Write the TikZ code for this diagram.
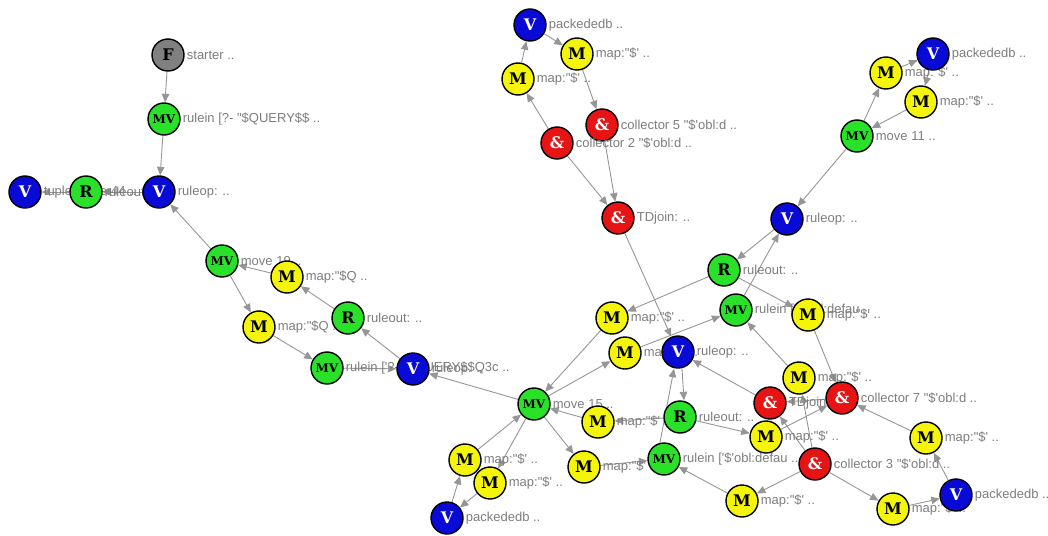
\documentclass[tikz,border=0pt]{standalone}
\usepackage{fontspec}
\newfontfamily\tagfont{Liberation Sans}[Ligatures=TeXOff]
\newfontfamily\opfont{DejaVu Serif}
\usetikzlibrary{arrows.meta}
\pgfdeclarelayer{links}
\pgfsetlayers{links,main}
\definecolor{opblue}{RGB}{10,10,215}
\definecolor{opgreen}{RGB}{40,225,40}
\definecolor{opyellow}{RGB}{245,245,10}
\definecolor{opred}{RGB}{230,20,20}
\definecolor{opgray}{RGB}{128,128,128}
\definecolor{tagtext}{RGB}{125,125,125}
\definecolor{linkgray}{RGB}{150,150,150}
\newcommand\maptag{map:"\$' ..}
\tikzset{op/.style={circle, draw=black, line width=1.4pt, minimum size=32pt, inner sep=0pt,
    font=\opfont\bfseries\fontsize{16}{16}\selectfont},
  vop/.style={op, fill=opblue, text=white},
  mop/.style={op, fill=opyellow},
  rop/.style={op, fill=opgreen},
  mvop/.style={op, fill=opgreen, font=\opfont\bfseries\fontsize{12}{12}\selectfont},
  jop/.style={op, fill=opred, text=white},
  fop/.style={op, fill=opgray},
  lnk/.style={draw=linkgray, line width=0.9pt, -{Triangle[length=8.5pt, width=7.5pt]}},
  every label/.style={text=tagtext, font=\tagfont\fontsize{13}{13}\selectfont, inner sep=1pt},
  label distance=1pt}

\begin{document}
\begin{tikzpicture}[x=1pt, y=-1pt]
  \useasboundingbox (0,0) rectangle (1048,535);
  % query rule on the left
  \node[vop, label=right:{tuplebuilder44 ..}] (vtup) at (25,192) {V};
  \node[rop, label=right:{ruleout: ..}] (rout1) at (86,192) {R};
  \node[vop, label=right:{ruleop: ..}] (vop1) at (159,192) {V};
  \node[fop, label=right:{starter ..}] (start) at (168,55) {F};
  \node[mvop, label=right:{rulein [?- "\$QUERY\$\$ ..}] (mvq) at (164,119) {MV};
  \node[mvop, label=right:{move 19 ..}] (mv19) at (222,261) {MV};
  \node[mop, label=right:{map:"\$Q ..}] (mq1) at (287,277) {M};
  \node[mop, label=right:{map:"\$Q ..}] (mq2) at (259,327) {M};
  \node[rop, label=right:{ruleout: ..}] (rout2) at (348,318) {R};
  \node[mvop, label=right:{rulein ['?- "\$QUERY\$\$Q3c ..}] (mvq2) at (327,368) {MV};
  \node[vop, label=right:{ruleop: ..}] (vop2) at (413,369) {V};
  % top middle collectors
  \node[vop, label=right:{packededb ..}] (vpk1) at (530,25) {V};
  \node[mop, label=right:{\maptag}] (mp1) at (577,54) {M};
  \node[mop, label=right:{\maptag}] (mp2) at (518,79) {M};
  \node[jop, label=right:{collector 5 "\$'obl:d ..}] (col5) at (602,125) {\&};
  \node[jop, label=right:{collector 2 "\$'obl:d ..}] (col2) at (557,143) {\&};
  \node[jop, label=right:{TDjoin: ..}] (tdj1) at (618,218) {\&};
  % top right move
  \node[mop, label=right:{\maptag}] (mp3) at (886,73) {M};
  \node[vop, label=right:{packededb ..}] (vpk2) at (933,54) {V};
  \node[mop, label=right:{\maptag}] (mp4) at (921,102) {M};
  \node[mvop, label=right:{move 11 ..}] (mv11) at (857,136) {MV};
  \node[vop, label=right:{ruleop: ..}] (vop3) at (787,219) {V};
  % middle cluster
  \node[rop, label=right:{ruleout: ..}] (rout3) at (724,270) {R};
  \node[mvop, label=right:{rulein ['\$'obl:defau ..}] (mvin1) at (736,310) {MV};
  \node[mop, label=right:{\maptag}] (mp5) at (808,315) {M};
  \node[mop, label=right:{\maptag}] (mp6) at (612,318) {M};
  \node[mop, label=right:{\maptag}] (mp7) at (625,353) {M};
  \node[vop, label=right:{ruleop: ..}] (vop4) at (678,352) {V};
  \node[mvop, label=right:{move 15 ..}] (mv15) at (534,404) {MV};
  \node[mop, label=right:{\maptag}] (mp8) at (598,422) {M};
  \node[rop, label=right:{ruleout: ..}] (rout4) at (680,417) {R};
  \node[mop, label=right:{\maptag}] (mp9) at (799,378) {M};
  \node[jop, label=right:{TDjoin: ..}] (tdj2) at (770,403) {\&};
  \node[jop, label=right:{collector 7 "\$'obl:d ..}] (col7) at (842,398) {\&};
  \node[mop, label=right:{\maptag}] (mp10) at (766,437) {M};
  \node[mop, label=right:{\maptag}] (mp14) at (584,467) {M};
  \node[mvop, label=right:{rulein ['\$'obl:defau ..}] (mvin2) at (664,459) {MV};
  \node[jop, label=right:{collector 3 "\$'obl:d ..}] (col3) at (815,464) {\&};
  \node[mop, label=right:{\maptag}] (mp11) at (926,438) {M};
  \node[mop, label=right:{\maptag}] (mp12) at (893,509) {M};
  \node[vop, label=right:{packededb ..}] (vpk3) at (956,495) {V};
  \node[mop, label=right:{\maptag}] (mp13) at (742,501) {M};
  % bottom left of move 15
  \node[mop, label=right:{\maptag}] (mp15) at (465,460) {M};
  \node[mop, label=right:{\maptag}] (mp16) at (490,483) {M};
  \node[vop, label=right:{packededb ..}] (vpk4) at (447,518) {V};

  \begin{pgfonlayer}{links}
    \draw[lnk] (start) -- (mvq);
    \draw[lnk] (mvq) -- (vop1);
    \draw[lnk] (vop1) -- (rout1);
    \draw[lnk] (rout1) -- (vtup);
    \draw[lnk] (mv19) -- (vop1);
    \draw[lnk] (mv19) -- (mq2);
    \draw[lnk] (mq2) -- (mvq2);
    \draw[lnk] (mvq2) -- (vop2);
    \draw[lnk] (vop2) -- (rout2);
    \draw[lnk] (rout2) -- (mq1);
    \draw[lnk] (mq1) -- (mv19);
    \draw[lnk] (mv15) -- (vop2);
    % collectors into TDjoin
    \draw[lnk] (vpk1) -- (mp1);
    \draw[lnk] (mp2) -- (vpk1);
    \draw[lnk] (col2) -- (mp2);
    \draw[lnk] (mp1) -- (col5);
    \draw[lnk] (col2) -- (tdj1);
    \draw[lnk] (col5) -- (tdj1);
    \draw[lnk] (tdj1) -- (vop4);
    % move 11 loop
    \draw[lnk] (mv11) -- (mp3);
    \draw[lnk] (mp3) -- (vpk2);
    \draw[lnk] (vpk2) -- (mp4);
    \draw[lnk] (mp4) -- (mv11);
    \draw[lnk] (mv11) -- (vop3);
    % middle
    \draw[lnk] (mvin1) -- (vop3);
    \draw[lnk] (vop3) -- (rout3);
    \draw[lnk] (rout3) -- (mp6);
    \draw[lnk] (rout3) -- (mp5);
    \draw[lnk] (mp7) -- (mvin1);
    \draw[lnk] (mp9) -- (mvin1);
    \draw[lnk] (mp5) -- (col7);
    \draw[lnk] (mp6) -- (mv15);
    \draw[lnk] (mv15) -- (mp7);
    \draw[lnk] (tdj2) -- (vop4);
    \draw[lnk] ([xshift=-4pt]mvin2.north) -- ([xshift=-4pt]vop4.south);
    \draw[lnk] ([xshift=4pt]vop4.south) -- ([xshift=4pt]rout4.north);
    \draw[lnk] (rout4) -- (mp8);
    \draw[lnk] (mp8) -- (mv15);
    \draw[lnk] (rout4) -- (mp10);
    \draw[lnk] (mv15) -- (mp14);
    \draw[lnk] (mp15) -- (mv15);
    \draw[lnk] (mv15) -- (mp16);
    \draw[lnk] (mp14) -- (mvin2);
    \draw[lnk] (vpk4) -- (mp15);
    \draw[lnk] (mp16) -- (vpk4);
    \draw[lnk] (mp13) -- (mvin2);
    \draw[lnk] (col3) -- (mp13);
    \draw[lnk] (col3) -- (mp12);
    \draw[lnk] (mp12) -- (vpk3);
    \draw[lnk] (vpk3) -- (mp11);
    \draw[lnk] (mp11) -- (col7);
    \draw[lnk] (mp10) -- (col7);
    \draw[lnk] (col3) -- (mp9);
    \draw[lnk] (col7) -- (tdj2);
    \draw[lnk] (col3) -- (tdj2);
  \end{pgfonlayer}
\end{tikzpicture}
\end{document}
